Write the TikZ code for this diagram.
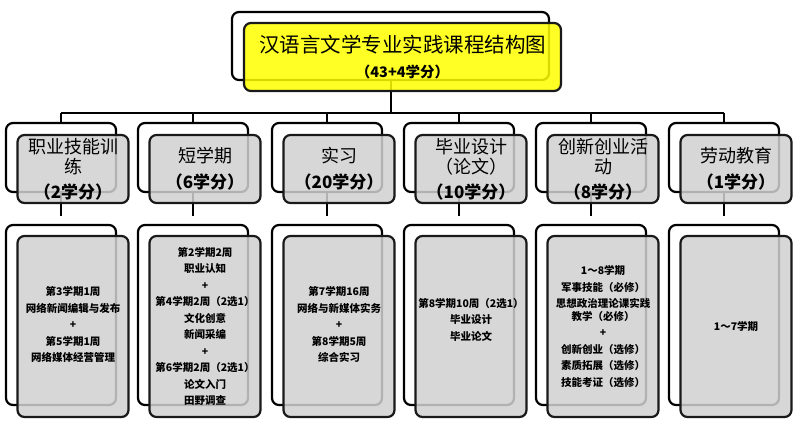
\documentclass[tikz,border=0pt]{standalone}
\usepackage{fontspec}
\setmainfont{Noto Sans CJK SC}
\definecolor{boxgray}{RGB}{208,208,208}
\definecolor{boxyellow}{RGB}{255,255,0}
\tikzset{
  backbox/.style={draw=black, line width=2.2pt, rounded corners=7pt, fill=white, inner sep=0pt},
  frontbox/.style={draw=black!90, line width=2.2pt, rounded corners=7pt, fill=boxgray, fill opacity=0.85, text opacity=1, inner sep=0pt, align=center},
  conn/.style={draw=black, line width=2pt},
  lvtwo/.style={font=\fontsize{18}{20}\selectfont},
  lvthree/.style={font=\fontsize{10.5}{16.5}\selectfont\bfseries, align=center, inner sep=0pt},
}
\begin{document}
\begin{tikzpicture}[x=1pt,y=-1pt]
\useasboundingbox (0,0) rectangle (799,424);
\coordinate (bar) at (0,113);
% connectors
\draw[conn] (390.5,80) coordinate (trunktop) -- (trunktop |- bar);
\foreach \i/\x in {1/61,2/193,3/327,4/459,5/591,6/724}{
  \coordinate (d\i) at (\x,113);
}
\draw[conn] (d1) -- (d6);
\foreach \i in {1,...,6}{
  \draw[conn] (d\i) -- ++(0,10);
  \draw[conn] (d\i) ++(0,70) -- ++(0,33);
}
% top
\node[backbox, minimum width=317pt, minimum height=68pt] (topb) at (390.5,46) {};
\node[frontbox, fill=boxyellow, minimum width=317pt, minimum height=68pt] (topf) at (402.5,57)
  {{\fontsize{20.5}{24}\selectfont 汉语言文学专业实践课程结构图}\\[9pt]{\fontsize{14.5}{17}\selectfont\bfseries （43+4学分）}};
% level 2 and 3 boxes
\foreach \i/\x in {1/61,2/193,3/327,4/459,5/591,6/724}{
  \node[backbox, minimum width=110pt, minimum height=69pt] (b\i) at (\x,157.5) {};
  \node[backbox, minimum width=110pt, minimum height=180pt] (c\i) at (\x,315) {};
}
\node[frontbox, lvtwo, minimum width=111pt, minimum height=68pt] (f1) at (73,169) {职业技能训\\练\\[5pt]{\bfseries\fontsize{17}{20}\selectfont （2学分）}};
\node[frontbox, lvtwo, minimum width=111pt, minimum height=68pt] (f2) at (205,169) {短学期\\[6pt]{\bfseries\fontsize{17}{20}\selectfont （6学分）}};
\node[frontbox, lvtwo, minimum width=111pt, minimum height=68pt] (f3) at (339,169) {实习\\[6pt]{\bfseries\fontsize{17}{20}\selectfont （20学分）}};
\node[frontbox, lvtwo, minimum width=111pt, minimum height=68pt] (f4) at (471,169) {毕业设计\\（论文）\\[5pt]{\bfseries\fontsize{17}{20}\selectfont （10学分）}};
\node[frontbox, lvtwo, minimum width=111pt, minimum height=68pt] (f5) at (603,169) {创新创业活\\动\\[5pt]{\bfseries\fontsize{17}{20}\selectfont （8学分）}};
\node[frontbox, lvtwo, minimum width=111pt, minimum height=68pt] (f6) at (736,169) {劳动教育\\[6pt]{\bfseries\fontsize{17}{20}\selectfont （1学分）}};
\foreach \i/\x in {1/73,2/205,3/339,4/471,5/603,6/736}{
  \node[frontbox, minimum width=111pt, minimum height=181pt] (g\i) at (\x,326.5) {};
}
\node[lvthree] (t1) at ([yshift=2pt]g1.center) {第3学期1周\\网络新闻编辑与发布\\+\\第5学期1周\\网络媒体经营管理};
\node[lvthree] (t2) at (g2.center) {第2学期2周\\职业认知\\+\\第4学期2周（2选1）\\文化创意\\新闻采编\\+\\第6学期2周（2选1）\\论文入门\\田野调查};
\node[lvthree] (t3) at ([yshift=2pt]g3.center) {第7学期16周\\网络与新媒体实务\\+\\第8学期5周\\综合实习};
\node[lvthree] (t4) at ([yshift=7pt]g4.center) {第8学期10周（2选1）\\毕业设计\\毕业论文};
\node[lvthree] (t5) at (g5.center) {1～8学期\\军事技能（必修）\\思想政治理论课实践\\[-4pt]教学（必修）\\+\\创新创业（选修）\\素质拓展（选修）\\技能考证（选修）};
\node[lvthree] (t6) at (g6.center) {1～7学期};
\end{tikzpicture}
\end{document}
